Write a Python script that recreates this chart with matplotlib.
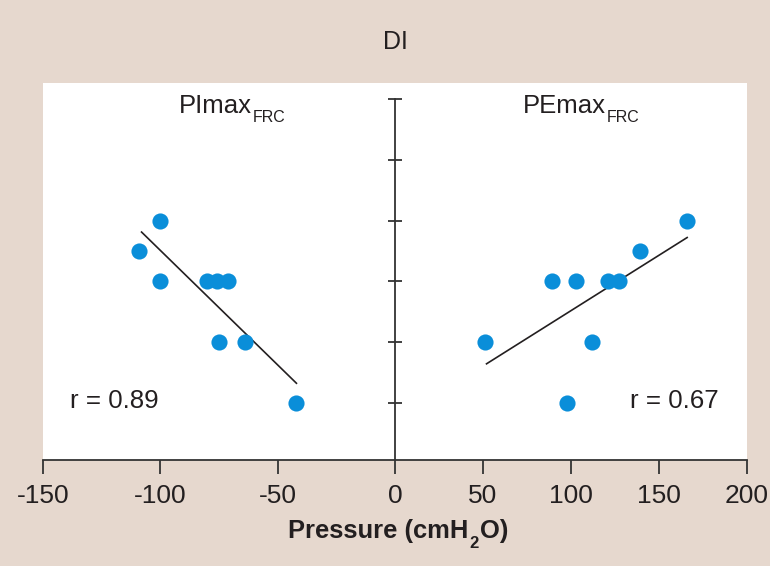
import numpy as np
import matplotlib
matplotlib.use("Agg")
import matplotlib.pyplot as plt

plt.rcParams['font.family'] = ['Liberation Sans', 'DejaVu Sans']
plt.rcParams['axes.unicode_minus'] = False

# Data
pimax_x = [-100, -109, -100, -80, -76, -71, -75, -64, -42]
pimax_y = [4, 3.5, 3, 3, 3, 3, 2, 2, 1]
pemax_x = [166, 139, 89, 103, 121, 127, 51, 112, 98]
pemax_y = [4, 3.5, 3, 3, 3, 3, 2, 2, 1]
pimax_fit_x = [-108, -42]
pimax_fit_y = [3.81, 1.32]
pemax_fit_x = [52, 166]
pemax_fit_y = [1.64, 3.72]
xticks = [-150, -100, -50, 0, 50, 100, 150, 200]
xtick_labels = ['-150', '-100', '-50', '0', '50', '100', '150', '200']
yticks = [1, 2, 3, 4, 5, 6]

BG = '#e6d8ce'
BLUE = '#0a8ed9'
DARK = '#231f20'

def fwd(x):
    x = np.asarray(x, dtype=float)
    return np.where(x < 0, x * 4.0 / 3.0, x)

def inv(y):
    y = np.asarray(y, dtype=float)
    return np.where(y < 0, y * 3.0 / 4.0, y)

fig = plt.figure(figsize=(7.7, 5.66), dpi=100, facecolor=BG)
ax = fig.add_axes([43 / 770, 1 - 460 / 566, 704 / 770, 376.7 / 566])
ax.set_facecolor('white')
ax.set_xscale('function', functions=(fwd, inv))
ax.set_xlim(-150, 200)
ax.set_ylim(0.056, 6.26)

ax.scatter(pimax_x, pimax_y, s=135, color=BLUE, zorder=3, linewidths=0)
ax.scatter(pemax_x, pemax_y, s=135, color=BLUE, zorder=3, linewidths=0)
ax.plot(pimax_fit_x, pimax_fit_y, color=DARK, lw=1.2, zorder=2)
ax.plot(pemax_fit_x, pemax_fit_y, color=DARK, lw=1.2, zorder=2)

for s in ['top', 'right']:
    ax.spines[s].set_visible(False)
ax.spines['left'].set_position(('data', 0))
ax.spines['left'].set_bounds(0.056, 6)
ax.spines['left'].set_color('#333333')
ax.spines['left'].set_linewidth(1.3)
ax.spines['bottom'].set_color('#333333')
ax.spines['bottom'].set_linewidth(1.3)

ax.set_yticks(yticks)
ax.set_yticklabels([])
ax.tick_params(axis='y', direction='inout', length=10, width=1.3, color='#333333')
ax.set_xticks(xticks)
ax.set_xticklabels(xtick_labels)
ax.xaxis.set_minor_locator(matplotlib.ticker.NullLocator())
ax.tick_params(axis='x', direction='out', length=10, width=1.3, color='#333333',
               labelsize=19, pad=7, labelcolor=DARK)


def label_with_sub(x, y, main, sub, size, subsize, sub_dy):
    t = ax.text(x, y, main, fontsize=size, ha='left', va='baseline', color=DARK)
    ax.annotate(sub, xy=(1, 0), xycoords=t, xytext=(0.5, sub_dy),
                textcoords='offset points', fontsize=subsize, ha='left',
                va='baseline', color=DARK)


label_with_sub(-91.9, 5.77, 'PImax', 'FRC', 18.5, 11.5, -3.0)
label_with_sub(72.9, 5.77, 'PEmax', 'FRC', 18.5, 11.5, -3.0)
ax.text(-138.5, 0.908, 'r = 0.89', fontsize=18.6, ha='left', va='baseline', color=DARK)
ax.text(133.5, 0.908, 'r = 0.67', fontsize=18.6, ha='left', va='baseline', color=DARK)

fig.text(395 / 770, 1 - 42 / 566, 'DI', fontsize=18, ha='center', va='center', color=DARK)

# x-axis title with subscript
t1 = fig.text(288.3 / 770, 1 - 538.3 / 566, 'Pressure (cmH', fontsize=18.4,
              fontweight='bold', ha='left', va='baseline', color=DARK)
t2 = plt.annotate('2', xy=(1, 0), xycoords=t1, xytext=(0.8, -3.4),
                  textcoords='offset points', fontsize=12, fontweight='bold',
                  ha='left', va='baseline', color=DARK, annotation_clip=False)
plt.annotate('O)', xy=(1, 0), xycoords=(t2, t1), xytext=(0.5, 0),
             textcoords='offset points', fontsize=18.4, fontweight='bold',
             ha='left', va='bottom', color=DARK, annotation_clip=False)

fig.savefig('out.png', dpi=100, facecolor=BG)
